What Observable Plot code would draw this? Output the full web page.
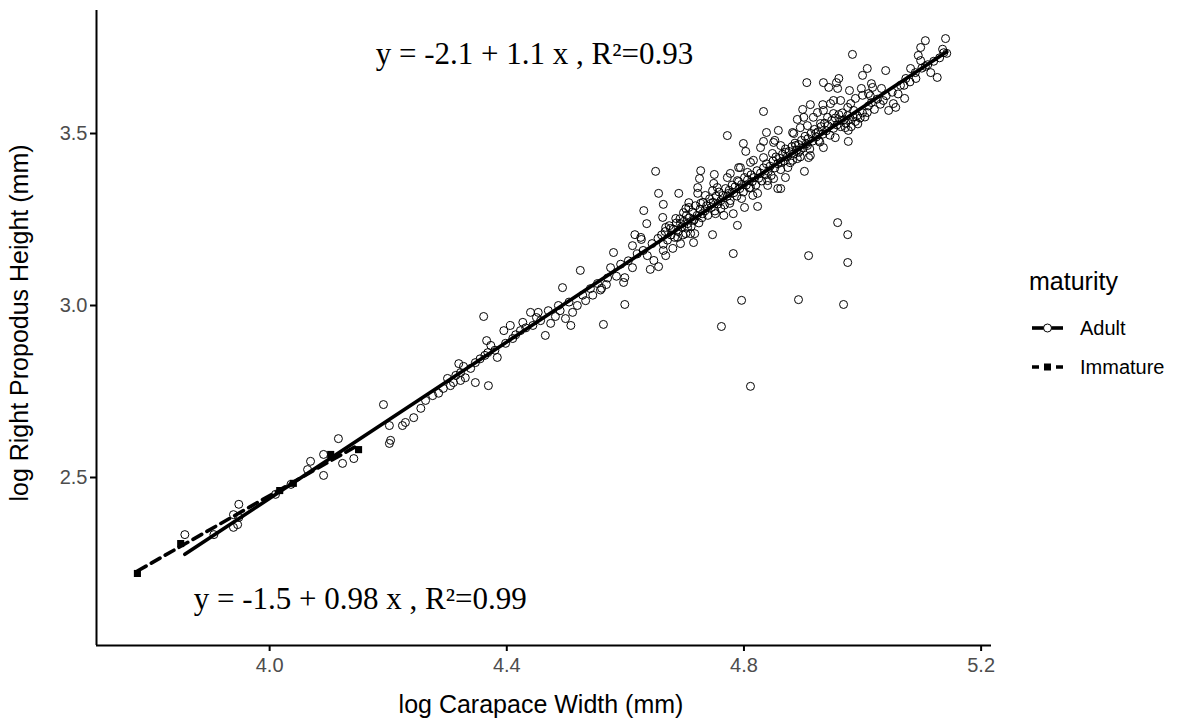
<!DOCTYPE html>
<html>
<head>
<meta charset="utf-8">
<script src="https://cdn.jsdelivr.net/npm/d3@7"></script>
<script src="https://cdn.jsdelivr.net/npm/@observablehq/plot@0.6"></script>
<style>
  html, body { margin: 0; padding: 0; background: #fff; }
  #wrap { position: relative; width: 1178px; height: 725px; }
  #legend { position: absolute; left: 1020px; top: 260px; }
</style>
</head>
<body>
<div id="wrap">
  <div id="chart"></div>
  <svg id="legend" width="158" height="130" font-family="Liberation Sans, Arial, sans-serif"></svg>
</div>
<script>
// ---- data (log carapace width, log right propodus height) ----
const adultPoints = [
  [3.857,2.334],[3.906,2.334],[3.948,2.422],[3.939,2.392],[3.948,2.384],[3.939,2.355],[3.946,2.363],
  [4.010,2.451],[4.036,2.480],[4.064,2.523],[4.069,2.547],[4.091,2.567],[4.091,2.506],[4.116,2.613],
  [4.123,2.541],[4.142,2.555],[4.202,2.599],[4.202,2.651],[4.224,2.651],[4.229,2.660],
  [4.192,2.712],[4.204,2.608],[4.243,2.674],[4.255,2.701],[4.263,2.724],[4.275,2.738],[4.293,2.759],
  [4.305,2.767],[4.300,2.788],[4.314,2.797],[4.322,2.805],[4.327,2.823],[4.319,2.831],[4.339,2.817],
  [4.347,2.834],[4.322,2.782],[4.347,2.776],[4.369,2.767],[4.361,2.968],[4.366,2.898],[4.368,2.863],
  [4.363,2.855],[4.373,2.884],[4.384,2.849],[4.395,2.927],[4.406,2.942],[4.410,2.904],[4.423,2.927],
  [4.427,2.951],[4.440,2.980],[4.444,2.942],[4.457,2.956],[4.465,2.913],[4.474,2.948],[4.482,2.968],
  [4.494,3.052],[4.499,2.962],[4.508,2.942],[4.511,2.980],[4.519,3.000],[4.524,3.102],[4.533,3.014],
  [4.541,3.049],[4.553,3.064],[4.487,3.000],[4.453,2.980],
  [4.285,2.745],[4.310,2.776],[4.330,2.790],[4.355,2.845],[4.380,2.870],[4.398,2.890],[4.415,2.915],
  [4.432,2.935],[4.450,2.965],[4.470,2.985],[4.490,2.985],[4.505,3.010],[4.528,3.030],[4.545,3.030],
  [4.558,3.045],
  [4.833,3.564],[4.772,3.494],[4.651,3.390],[4.958,3.241],[4.975,3.206],[4.909,3.145],[4.975,3.125],
  [4.782,3.151],[4.796,3.015],[4.892,3.017],[4.968,3.003],[4.762,2.939],[4.599,3.003],[4.563,2.945],
  [4.568,3.061],[4.811,2.765],
  [4.656,3.326],[4.664,3.294],[4.690,3.326],[4.631,3.276],[4.636,3.238],[4.616,3.206],[4.627,3.192],
  [4.580,3.154],[4.612,3.174],[4.575,3.110],[4.599,3.081],[4.597,3.067],[4.642,3.105],[4.656,3.113],
  [4.637,3.145],[4.668,3.145],[4.680,3.166],[4.693,3.180],[4.715,3.183],[4.717,3.209],[4.747,3.206],
  [4.789,3.233],[4.801,3.285],[4.823,3.288],[4.766,3.262],[4.782,3.267],[4.752,3.267],[4.727,3.392],
  [4.725,3.369],[4.750,3.381],[4.707,3.299],[4.663,3.256],[4.668,3.227],[4.705,3.227],[4.715,3.247],
  [4.799,3.471],[4.803,3.448],[4.833,3.477],[4.838,3.503],[4.858,3.509],[4.852,3.480],[4.884,3.500],
  [4.899,3.570],[4.912,3.584],[4.933,3.584],[4.934,3.648],[4.956,3.648],[4.958,3.631],[4.978,3.625],
  [4.998,3.631],[5.015,3.645],[5.035,3.596],[5.052,3.587],[5.056,3.576],[5.071,3.602],[5.032,3.631],
  [4.951,3.596],[4.963,3.596],[4.980,3.587],[5.008,3.561],[4.991,3.552],[4.976,3.477],[4.954,3.488],
  [4.934,3.459],[4.926,3.480],[4.901,3.547],[4.890,3.541],[4.909,3.430],[4.902,3.390],[4.912,3.436],
  [4.862,3.416],[4.870,3.372],[4.857,3.340],[4.862,3.340],[4.840,3.349],[4.823,3.326],[4.811,3.343],
  [4.791,3.401],[4.811,3.416],[4.833,3.430],[4.848,3.442],[4.870,3.445],[4.882,3.503],[4.890,3.427],
  [4.892,3.445],[4.747,3.334],[4.755,3.343],[4.772,3.372],[4.789,3.363],[4.806,3.387],[4.774,3.326],
  [4.744,3.297],[4.727,3.297],[4.735,3.320],[4.722,3.326],[4.707,3.285],[4.698,3.270],[4.685,3.253],
  [4.676,3.224],[4.693,3.238],[4.730,3.267],[4.761,3.282],[4.776,3.297],[4.796,3.311],[4.815,3.320],
  [4.840,3.363],[4.850,3.369],[4.874,3.401],[4.882,3.422],[4.895,3.451],[4.907,3.465],[4.921,3.500],
  [4.929,3.529],[4.941,3.547],[4.951,3.558],[4.963,3.538],[4.971,3.517],[4.976,3.509],[4.985,3.567],
  [4.975,3.576],[4.988,3.602],[5.000,3.611],[5.010,3.616],[5.017,3.634],[4.612,3.110],[4.648,3.131],
  [4.664,3.160],[4.688,3.198],[4.710,3.209],[4.702,3.209],[4.626,3.198],[4.702,3.282],[4.722,3.343],
  [4.749,3.355],[4.777,3.384],[4.794,3.401],[4.816,3.422],[4.828,3.459],[4.850,3.474],[4.862,3.465],
  [4.887,3.465],[4.895,3.517],[4.907,3.523],[4.917,3.547],[4.924,3.561],[4.934,3.567],[4.946,3.587],
  [5.098,3.750],[5.106,3.770],[5.140,3.776],[5.142,3.733],[5.137,3.735],[5.094,3.727],[5.106,3.695],
  [5.115,3.677],[5.126,3.663],[5.089,3.677],[5.073,3.660],[5.064,3.640],[5.044,3.567],[5.013,3.610],
  [5.098,3.712],[5.081,3.689],[4.983,3.730],[4.960,3.660],[4.943,3.634],[5.008,3.689],[5.039,3.683],
  [5.000,3.669],[4.906,3.648],
  [4.585,3.085],[4.592,3.120],[4.605,3.130],[4.620,3.150],[4.630,3.160],[4.645,3.180],[4.655,3.195],
  [4.570,3.080],[4.560,3.050],
  [4.661,3.205],[4.664,3.178],[4.667,3.215],[4.671,3.190],[4.674,3.232],[4.677,3.205],[4.681,3.222],
  [4.683,3.198],[4.686,3.240],[4.689,3.215],[4.692,3.252],[4.695,3.228],[4.697,3.205],[4.699,3.245],
  [4.703,3.262],[4.705,3.238],[4.708,3.255],[4.711,3.230],[4.713,3.272],[4.716,3.250],[4.718,3.290],
  [4.721,3.262],[4.724,3.240],[4.726,3.280],[4.729,3.255],[4.731,3.300],[4.734,3.275],[4.737,3.290],
  [4.739,3.262],[4.742,3.310],[4.745,3.285],[4.748,3.300],[4.751,3.275],[4.753,3.318],[4.756,3.295],
  [4.758,3.330],[4.761,3.305],[4.764,3.320],[4.767,3.292],[4.769,3.340],[4.772,3.318],[4.775,3.335],
  [4.777,3.305],[4.780,3.350],[4.783,3.328],[4.785,3.345],[4.788,3.318],[4.791,3.360],[4.793,3.340],
  [4.796,3.352],[4.799,3.330],[4.801,3.372],[4.804,3.350],[4.806,3.365],[4.809,3.342],[4.812,3.380],
  [4.814,3.360],[4.817,3.372],[4.820,3.350],[4.822,3.392],[4.825,3.370],[4.828,3.385],[4.830,3.362],
  [4.833,3.400],[4.836,3.380],[4.838,3.412],[4.841,3.390],[4.844,3.405],[4.846,3.378],[4.849,3.420],
  [4.852,3.400],[4.854,3.432],[4.857,3.412],[4.860,3.428],[4.862,3.395],[4.865,3.440],[4.868,3.420],
  [4.870,3.455],[4.873,3.432],[4.876,3.448],[4.878,3.415],[4.881,3.462],[4.884,3.440],[4.886,3.472],
  [4.889,3.452],[4.892,3.468],[4.895,3.432],[4.897,3.480],[4.900,3.458],[4.903,3.492],[4.905,3.470],
  [4.908,3.485],[4.911,3.455],[4.913,3.500],[4.916,3.478],[4.919,3.512],[4.922,3.490],[4.925,3.505],
  [4.928,3.475],[4.930,3.520],[4.933,3.498],[4.936,3.530],[4.939,3.508],[4.942,3.522],[4.945,3.495],
  [4.948,3.538],[4.951,3.515],[4.954,3.545],[4.957,3.525],[4.960,3.555],[4.963,3.520],[4.966,3.560],
  [4.969,3.540],[4.972,3.530],[4.975,3.552],[4.978,3.540],[4.981,3.520],[4.984,3.548],[4.988,3.535],
  [4.992,3.528],[4.996,3.545],[5.000,3.560],[5.004,3.548],[5.010,3.580],[5.015,3.590],[5.020,3.570],
  [5.025,3.600],[5.030,3.585],[5.040,3.610],[5.050,3.620],[5.060,3.615],[5.070,3.640],[5.080,3.650],
  [5.090,3.660],[5.100,3.690],[5.110,3.700],[5.120,3.710],[5.130,3.720],[5.135,3.745]
];
const immaturePoints = [
  [3.777,2.221],[3.850,2.308],[4.017,2.462],[4.040,2.483],[4.103,2.567],[4.150,2.581]
];
const xTicks = [4.0, 4.4, 4.8, 5.2];
const yTicks = [2.5, 3.0, 3.5];
const xTitle = "log Carapace Width (mm)";
const yTitle = "log Right Propodus Height (mm)";
const eqAdult = "y = -2.1 + 1.1 x , R\u00B2=0.93";
const eqImmature = "y = -1.5 + 0.98 x , R\u00B2=0.99";
const legendTitle = "maturity";
const legendLabels = ["Adult", "Immature"];

// ---- layout ----
const xDomain = [3.708, 5.2175];
const yDomain = [2.0116, 3.8576];
const eqAdultPos = {x: 4.179, y: 3.7035};
const eqImmPos = {x: 3.872, y: 2.119};

const adult = adultPoints.map(([cw, ph]) => ({cw, ph, maturity: "Adult"}));
const immature = immaturePoints.map(([cw, ph]) => ({cw, ph, maturity: "Immature"}));

const chart = Plot.plot({
  width: 1178,
  height: 725,
  marginLeft: 96,
  marginRight: 187,
  marginTop: 10,
  marginBottom: 80,
  style: {fontFamily: "Liberation Sans, Arial, sans-serif", fontSize: "20px", background: "#fff", color: "#000"},
  x: {domain: xDomain},
  y: {domain: yDomain},
  marks: [
    Plot.axisX({ticks: xTicks, tickFormat: d3.format(".1f"), tickSize: 6, tickPadding: 6, strokeWidth: 2, stroke: "#000", fill: "#4D4D4D", label: null, fontSize: 20}),
    Plot.axisY({ticks: yTicks, tickFormat: d3.format(".1f"), tickSize: 6, tickPadding: 3, strokeWidth: 2, stroke: "#000", fill: "#4D4D4D", label: null, fontSize: 20}),
    Plot.ruleY([yDomain[0]], {stroke: "#000", strokeWidth: 2}),
    Plot.ruleX([xDomain[0]], {stroke: "#000", strokeWidth: 2}),
    Plot.dot(adult, {x: "cw", y: "ph", r: 4, stroke: "#000", strokeWidth: 1, fill: "none"}),
    Plot.dot(immature, {x: "cw", y: "ph", symbol: "square", r: 4, fill: "#000", stroke: "none"}),
    Plot.linearRegressionY(adult, {x: "cw", y: "ph", ci: 0, stroke: "#000", strokeWidth: 3.6}),
    Plot.linearRegressionY(immature, {x: "cw", y: "ph", ci: 0, stroke: "#000", strokeWidth: 3.6, strokeDasharray: "10,6"}),
    Plot.text([eqAdult], {x: () => eqAdultPos.x, y: () => eqAdultPos.y, text: d => d, textAnchor: "start", lineAnchor: "bottom", fontFamily: "Liberation Serif, Times New Roman, serif", fontSize: 31, fill: "#000"}),
    Plot.text([eqImmature], {x: () => eqImmPos.x, y: () => eqImmPos.y, text: d => d, textAnchor: "start", lineAnchor: "bottom", fontFamily: "Liberation Serif, Times New Roman, serif", fontSize: 31, fill: "#000"}),
    Plot.text([xTitle], {frameAnchor: "bottom", text: d => d, textAnchor: "middle", dx: -3, dy: 67, lineAnchor: "bottom", fontSize: 25, fill: "#000"}),
    Plot.text([yTitle], {frameAnchor: "left", text: d => d, textAnchor: "middle", rotate: -90, dx: -69, dy: -5, lineAnchor: "bottom", fontSize: 25, fill: "#000"})
  ]
});
document.getElementById("chart").appendChild(chart);

// ---- legend ----
const lg = d3.select("#legend");
lg.append("text").attr("x", 9).attr("y", 30).attr("font-size", 25).attr("fill", "#000").text(legendTitle);
const rows = [68, 107];
// Adult key
lg.append("line").attr("x1", 12).attr("x2", 43).attr("y1", rows[0]).attr("y2", rows[0]).attr("stroke", "#000").attr("stroke-width", 3.6);
lg.append("circle").attr("cx", 27.5).attr("cy", rows[0]).attr("r", 4).attr("fill", "#fff").attr("stroke", "#000").attr("stroke-width", 1);
// Immature key
lg.append("line").attr("x1", 12).attr("x2", 43).attr("y1", rows[1]).attr("y2", rows[1]).attr("stroke", "#000").attr("stroke-width", 3.6).attr("stroke-dasharray", "7,5");
lg.append("rect").attr("x", 24).attr("y", rows[1] - 3.5).attr("width", 7).attr("height", 7).attr("fill", "#000");
legendLabels.forEach((t, i) => {
  lg.append("text").attr("x", 60).attr("y", rows[i] + 7).attr("font-size", 20).attr("fill", "#000").text(t);
});
</script>
</body>
</html>
